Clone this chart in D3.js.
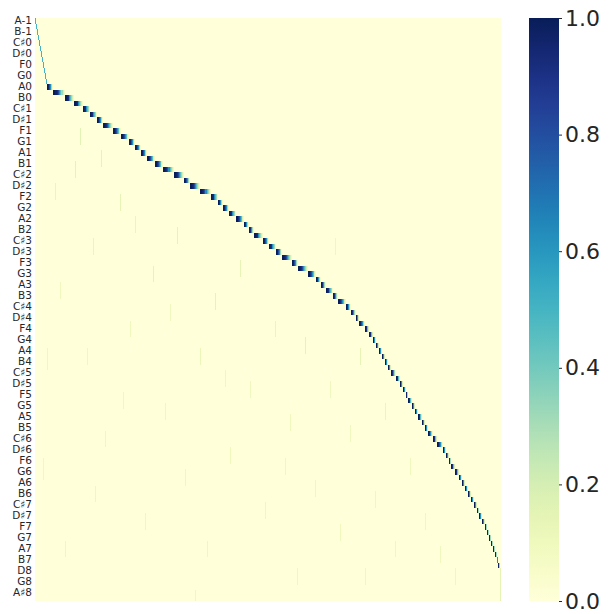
<!DOCTYPE html>
<meta charset="utf-8">
<head>
<style>
body { margin: 0; background: #fff; }
text { font-family: "DejaVu Sans", sans-serif; fill: #262626; }
</style>
</head>
<body>
<script src="https://d3js.org/d3.v7.min.js"></script>
<div id="chart"></div>
<script>

// labels shown on the y axis (every second row, as seaborn does)
var tickLabels = ["A-1","B-1","C♯0","D♯0","F0","G0",
  "A0","B0","C♯1","D♯1","F1","G1","A1","B1","C♯2","D♯2","F2","G2",
  "A2","B2","C♯3","D♯3","F3","G3","A3","B3","C♯4","D♯4","F4","G4",
  "A4","B4","C♯5","D♯5","F5","G5","A5","B5","C♯6","D♯6","F6","G6",
  "A6","B6","C♯7","D♯7","F7","G7","A7","B7","D8","G8","A♯8"];
var nRows = 106;
var nFrames = 466;

// onset frame of the activation in each row (rows 0..99)
var onsets = [0,1,2,3,4,5,6,7,8,9,10,11,
  12,18,30,39,48,55,62,68,78,86,94,100,106,112,120,128,139,149,155,165,
  176,183,188,194,201,209,214,219,228,234,241,247,257,263,273,281,286,291,
  298,303,311,316,321,324,330,334,338,341,344,347,350,353,356,361,365,368,
  371,373,377,380,383,387,390,393,398,402,408,411,414,416,420,424,427,430,
  433,436,439,442,444,447,450,452,454,456,458,460,462,463];
var endFrame = 465;

// level of the first 12 rows (thin lead-in line)
var leadLevel = 0.5;
// decay shape of a note over its duration (fraction 0 -> 1)
var decay = [1.0, 1.0, 0.97, 0.92, 0.8, 0.62, 0.45, 0.32, 0.2, 0.08];

// faint streaks in the background: [frame, firstRow, lastRow, value]
var streaks = [
  [20,30,32,0.12],[25,48,50,0.1],[40,26,28,0.14],[52,60,62,0.1],[58,40,42,0.12],
  [70,75,77,0.1],[85,32,34,0.14],[95,55,57,0.1],[110,90,92,0.1],[118,45,47,0.14],
  [130,70,72,0.1],[142,38,40,0.14],[150,82,84,0.1],[165,60,62,0.12],[172,95,97,0.1],
  [180,50,52,0.14],[195,78,80,0.1],[205,44,46,0.14],[215,66,68,0.1],[230,88,90,0.1],
  [240,55,57,0.12],[255,72,74,0.1],[262,100,102,0.1],[270,58,60,0.14],[280,84,86,0.1],
  [295,66,68,0.1],[305,92,94,0.1],[315,74,76,0.1],[325,60,62,0.14],[340,86,88,0.1],
  [350,70,72,0.12],[360,95,97,0.1],[375,80,82,0.1],[390,90,92,0.1],[405,96,98,0.1],
  [420,100,102,0.1],[12,60,63,0.1],[8,80,83,0.1],[30,95,97,0.1],[60,85,87,0.1],
  [45,20,22,0.16],[66,24,26,0.14],[100,36,38,0.12],[135,52,54,0.1],[190,64,66,0.1],
  [250,80,82,0.1],[300,40,42,0.1],[330,100,102,0.1],[160,104,105,0.1],[88,68,70,0.1],
  [465,100,105,0.15]
];

var colorTicks = [0, 0.2, 0.4, 0.6, 0.8, 1.0];

var width = 613, height = 614;
var mLeft = 35, mRight = 501, mTop = 18, mBottom = 601;

var svg = d3.select("#chart").append("svg")
    .attr("width", width)
    .attr("height", height);

var x = d3.scaleLinear().domain([0, nFrames]).range([mLeft, mRight]);
var y = d3.scaleBand().domain(d3.range(nRows)).range([mTop, mBottom]);
var color = d3.scaleSequential(d3.interpolateYlGnBu).domain([0, 1]);

// build cells
var cells = [];
streaks.forEach(function (s) {
  for (var r = s[1]; r <= s[2]; r++) cells.push({f: s[0], r: r, v: s[3]});
});
onsets.forEach(function (on, r) {
  var off = r + 1 < onsets.length ? onsets[r + 1] : endFrame;
  var d = Math.max(1, off - on);
  for (var i = 0; i < d; i++) {
    var v;
    if (r < 12) v = leadLevel;
    else {
      var t = (i + 0.5) / d;
      v = decay[Math.min(decay.length - 1, Math.floor(t * decay.length))];
    }
    cells.push({f: on + i, r: r, v: v});
  }
});

var g = svg.append("g").attr("shape-rendering", "crispEdges");
g.append("rect")
    .attr("x", mLeft).attr("y", mTop)
    .attr("width", mRight - mLeft).attr("height", mBottom - mTop)
    .attr("fill", color(0));

g.selectAll("rect.cell")
  .data(cells)
  .enter().append("rect")
    .attr("class", "cell")
    .attr("x", d => x(d.f))
    .attr("y", d => y(d.r))
    .attr("width", d => x(d.f + 1) - x(d.f))
    .attr("height", y.bandwidth())
    .attr("fill", d => color(d.v));

// y labels
var yAxis = d3.axisLeft(y)
    .tickValues(d3.range(0, nRows, 2))
    .tickFormat(d => tickLabels[d / 2])
    .tickSize(0)
    .tickPadding(3);
svg.append("g")
    .attr("transform", "translate(" + mLeft + ",0)")
    .call(yAxis)
    .call(a => a.select(".domain").remove())
    .selectAll("text")
    .style("font-size", "10.5px")
    .style("font-family", "DejaVu Sans");

// colorbar
var cbLeft = 529, cbWidth = 30;
var grad = svg.append("defs").append("linearGradient")
    .attr("id", "cb").attr("x1", 0).attr("x2", 0).attr("y1", 1).attr("y2", 0);
d3.range(0, 1.0001, 0.05).forEach(function (t) {
  grad.append("stop").attr("offset", t).attr("stop-color", color(t));
});
svg.append("rect")
    .attr("x", cbLeft).attr("y", mTop)
    .attr("width", cbWidth).attr("height", mBottom - mTop)
    .attr("fill", "url(#cb)");

var cy = d3.scaleLinear().domain([0, 1]).range([mBottom, mTop]);
svg.append("g")
    .attr("transform", "translate(" + (cbLeft + cbWidth) + ",0)")
    .call(d3.axisRight(cy).tickValues(colorTicks).tickFormat(d3.format(".1f")).tickSize(3).tickPadding(3))
    .call(a => a.select(".domain").remove())
    .call(a => a.selectAll("line").attr("stroke", "#262626"))
    .selectAll("text")
    .style("font-size", "22px")
    .style("font-family", "DejaVu Sans");

</script>
</body>
